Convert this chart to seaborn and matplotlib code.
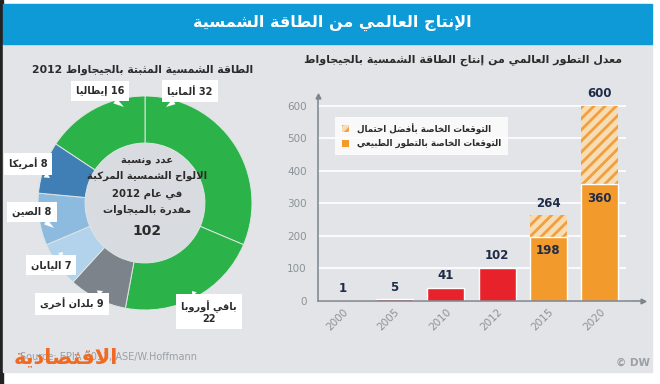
import re
import matplotlib
matplotlib.use("Agg")
import matplotlib.pyplot as plt
from matplotlib.patches import Rectangle, Circle, Patch
import seaborn as sns
import pandas as pd

# ---- data ----
years = ["2000", "2005", "2010", "2012", "2015", "2020"]
installed = [1, 5, 41, 102, 198, 360]
best_case = [0, 0, 0, 0, 264, 600]
bar_colors = ["#e8222b", "#e8222b", "#e8222b", "#e8222b", "#f39a2d", "#f39a2d"]
y_ticks = [0, 100, 200, 300, 400, 500, 600]

countries = ["ألمانيا", "باقي أوروبا", "بلدان أخرى", "اليابان", "الصين", "أمريكا", "إيطاليا"]
capacity = [32, 22, 9, 7, 8, 8, 16]
ring_colors = ["#2bb34a", "#2bb34a", "#7d838b", "#b3d2eb", "#8dbbe0", "#3f7fb5", "#2bb34a"]
total_2012 = 102

title = "الإنتاج العالمي من الطاقة الشمسية"
left_title = "الطاقة الشمسية المثبتة بالجيجاواط 2012"
right_title = "معدل التطور العالمي من إنتاج الطاقة الشمسية بالجيجاواط"
center_text = "عدد ونسبة\nالالواح الشمسية المركبة\nفي عام 2012\nمقدرة بالميجاوات"
legend_best = "التوقعات الخاصة بأفضل احتمال"
legend_base = "التوقعات الخاصة بالتطور الطبيعي"
logo = "الاقتصادية"

# ---- minimal arabic shaping (matplotlib has no complex text layout) ----
AR = {"ء": (0xFE80, 1), "آ": (0xFE81, 2), "أ": (0xFE83, 2), "ؤ": (0xFE85, 2),
      "إ": (0xFE87, 2), "ئ": (0xFE89, 4), "ا": (0xFE8D, 2), "ب": (0xFE8F, 4),
      "ة": (0xFE93, 2), "ت": (0xFE95, 4), "ث": (0xFE99, 4), "ج": (0xFE9D, 4),
      "ح": (0xFEA1, 4), "خ": (0xFEA5, 4), "د": (0xFEA9, 2), "ذ": (0xFEAB, 2),
      "ر": (0xFEAD, 2), "ز": (0xFEAF, 2), "س": (0xFEB1, 4), "ش": (0xFEB5, 4),
      "ص": (0xFEB9, 4), "ض": (0xFEBD, 4), "ط": (0xFEC1, 4), "ظ": (0xFEC5, 4),
      "ع": (0xFEC9, 4), "غ": (0xFECD, 4), "ف": (0xFED1, 4), "ق": (0xFED5, 4),
      "ك": (0xFED9, 4), "ل": (0xFEDD, 4), "م": (0xFEE1, 4), "ن": (0xFEE5, 4),
      "ه": (0xFEE9, 4), "و": (0xFEED, 2), "ى": (0xFEEF, 2), "ي": (0xFEF1, 4)}
LAM_ALEF = {"آ": 0xFEF5, "أ": 0xFEF7, "إ": 0xFEF9, "ا": 0xFEFB}


def shape(line):
    seq = []
    i = 0
    while i < len(line):
        c = line[i]
        if c == "ل" and i + 1 < len(line) and line[i + 1] in LAM_ALEF:
            seq.append(("LA", line[i + 1]))
            i += 2
        else:
            seq.append(("C", c))
            i += 1

    def joins_next(item):
        return item[0] == "C" and item[1] in AR and AR[item[1]][1] == 4

    def is_ar(item):
        return item[0] == "LA" or item[1] in AR

    out = []
    for k, (kind, c) in enumerate(seq):
        prev_j = k > 0 and joins_next(seq[k - 1])
        if kind == "LA":
            out.append(chr(LAM_ALEF[c] + (1 if prev_j else 0)))
            continue
        if c not in AR:
            out.append(c)
            continue
        base, nf = AR[c]
        next_j = nf == 4 and k + 1 < len(seq) and is_ar(seq[k + 1])
        if nf == 1:
            out.append(chr(base))
        elif prev_j and next_j:
            out.append(chr(base + 3))
        elif next_j:
            out.append(chr(base + 2))
        elif prev_j:
            out.append(chr(base + 1))
        else:
            out.append(chr(base))
    return "".join(out)


def ar(text):
    lines = []
    for line in text.split("\n"):
        s = shape(line)[::-1]
        s = re.sub(r"[0-9A-Za-z.,/]+", lambda m: m.group(0)[::-1], s)
        lines.append(s)
    return "\n".join(lines)


def px(x, y):
    # pixel position (from top-left) -> figure fraction
    return x / 660, 1 - y / 384


sns.set_style("white")
plt.rcParams["font.family"] = ["DejaVu Sans"]
plt.rcParams["hatch.linewidth"] = 2.0

fig = plt.figure(figsize=(6.6, 3.84), dpi=100)
fig.patch.set_facecolor("white")

# background panels
fig.add_artist(Rectangle(px(0, 384), 3 / 660, 1, transform=fig.transFigure,
                         color="#222222", zorder=-10))
fig.add_artist(Rectangle(px(3, 372), 649 / 660, 328 / 384, transform=fig.transFigure,
                         color="#e2e4e7", zorder=-10))
fig.add_artist(Rectangle(px(3, 44), 649 / 660, 40 / 384, transform=fig.transFigure,
                         color="#0d9ad7", zorder=-9))

fig.text(*px(332, 23), ar(title), color="white", fontsize=11.5, fontweight="bold",
         ha="center", va="center")
fig.text(*px(143, 70), ar(left_title), color="#2b2b2b", fontsize=7.8,
         fontweight="bold", ha="center", va="center")
fig.text(*px(622, 60), ar(right_title), color="#2b2b2b", fontsize=7.9,
         fontweight="bold", ha="right", va="center")

# ---- bar chart ----
ax = fig.add_axes([318 / 660, 83 / 384, 308 / 660, 205 / 384])
ax.set_facecolor("none")
df = pd.DataFrame({"year": years, "installed": installed, "best": best_case})

sns.barplot(data=df, x="year", y="best", order=years, color="#f7dcb4",
            saturation=1, width=0.72, ax=ax)
for bar in ax.containers[0]:
    bar.set_hatch("///")
    bar.set_edgecolor("#f0a040")
    bar.set_linewidth(0)
    bar.set_facecolor("#f7dcb4")

sns.barplot(data=df, x="year", y="installed", order=years, hue="year",
            palette=bar_colors, saturation=1, width=0.72, legend=False, ax=ax)

lab_kw = dict(color="#1f2b47", fontsize=8.5, fontweight="bold")
ax.bar_label(ax.containers[0], labels=[str(v) if v else "" for v in best_case],
             padding=4, **lab_kw)
for i, cont in enumerate(ax.containers[1:]):
    if best_case[i] > 0:
        ax.bar_label(cont, labels=[str(installed[i])], padding=-15, **lab_kw)
    else:
        ax.bar_label(cont, labels=[str(installed[i])], padding=4, **lab_kw)

ax.set_xlim(-0.49, 5.51)
ax.set_ylim(0, 630)
ax.set_yticks(y_ticks)
ax.set_xlabel("")
ax.set_ylabel("")
ax.yaxis.grid(True, color="white", lw=1.2)
ax.set_axisbelow(True)
for s in ["top", "right", "bottom"]:
    ax.spines[s].set_visible(False)
ax.spines["left"].set_color("#7d848c")
ax.spines["left"].set_linewidth(1.1)
axis_col = "#7d848c"
ax.plot([0, 1.055], [0, 0], color=axis_col, lw=1.1, transform=ax.transAxes,
        clip_on=False, zorder=5)
ax.plot(1.055, 0, ">", color=axis_col, ms=3.5, transform=ax.transAxes, clip_on=False, zorder=5)
ax.plot(0, 1.0, "^", color=axis_col, ms=3.5, transform=ax.transAxes, clip_on=False, zorder=5)
ax.tick_params(axis="y", length=0, pad=8, labelsize=7.5, labelcolor="#8c9298")
ax.tick_params(axis="x", length=0, pad=4, labelsize=7.5, labelcolor="#8c9298")
for t in ax.get_xticklabels():
    t.set_rotation(45)
    t.set_ha("right")
    t.set_rotation_mode("anchor")

handles = [Patch(facecolor="#f7dcb4", edgecolor="#f0a040", hatch="///", linewidth=0),
           Patch(facecolor="#f39a2d", linewidth=0)]
leg = ax.legend(handles, [ar(legend_best), ar(legend_base)], loc="upper left",
                bbox_to_anchor=(0.055, 0.9), borderaxespad=0, frameon=True,
                fancybox=False, fontsize=6.3, handlelength=0.8, handleheight=0.8,
                handletextpad=1.0, borderpad=0.75, labelspacing=0.6)
leg.get_frame().set_facecolor("white")
leg.get_frame().set_edgecolor("none")
for t in leg.get_texts():
    t.set_fontweight("bold")
    t.set_color("#2b2b2b")

# ---- donut ----
pax = fig.add_axes([38 / 660, 74 / 384, 214 / 660, 214 / 384])
pax.pie(capacity, colors=ring_colors, startangle=90, counterclock=False, radius=1,
        wedgeprops=dict(width=0.44, edgecolor="#dde6e2", linewidth=0.7))
pax.add_patch(Circle((0, 0), 0.56, color="#d8dbdf", zorder=0))
pax.set_xlim(-1, 1)
pax.set_ylim(-1, 1)
pax.axis("off")

fig.text(*px(147, 185), ar(center_text), color="#2b2b2b", fontsize=7.3,
         fontweight="bold", ha="center", va="center", linespacing=1.8)
fig.text(*px(147, 231), str(total_2012), color="#2b2b2b", fontsize=10,
         fontweight="bold", ha="center", va="center")

# label boxes (text pos, pointer tip)
label_pos = [((190, 91), (166, 107)), ((209, 312), (192, 291)), ((72, 304), (103, 291)),
             ((51, 265), (63, 252)), ((32, 212), (54, 228)), ((28, 164), (50, 178)),
             ((100, 91), (124, 107))]
for name, val, (tp, tip) in zip(countries, capacity, label_pos):
    txt = f"{name}\n{val}" if name == "باقي أوروبا" else f"{val} {name}"
    pax.annotate(ar(txt), xy=px(*tip), xycoords="figure fraction",
                 xytext=px(*tp), textcoords="figure fraction",
                 ha="center", va="center", fontsize=7, fontweight="bold",
                 color="#2b2b2b", annotation_clip=False,
                 bbox=dict(boxstyle="square,pad=0.5", fc="white", ec="none"),
                 arrowprops=dict(arrowstyle="wedge,tail_width=0.6", fc="white",
                                 ec="none", shrinkA=0, shrinkB=0))

# footer
fig.text(*px(20, 357), "Source: EPIA 2013, ASE/W.Hoffmann", color="#9aa0a6",
         fontsize=7, ha="left", va="center")
fig.text(*px(14, 357), ar(logo), color="#f06a24", fontsize=15, fontweight="bold",
         ha="left", va="center", zorder=5)
fig.text(*px(650, 363), "© DW", color="#9aa0a6", fontsize=7.5, fontweight="bold",
         ha="right", va="center")

fig.savefig("out.png", dpi=100, facecolor="white")
